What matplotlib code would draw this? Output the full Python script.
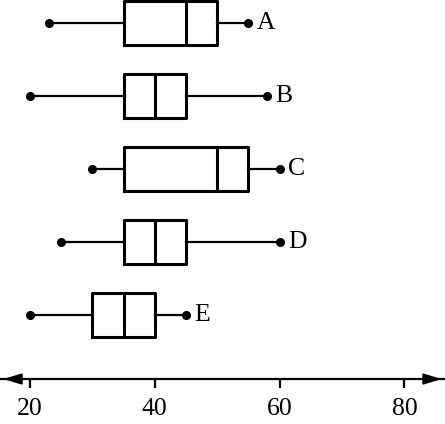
import matplotlib.pyplot as plt

# box plot summaries (top to bottom)
labels = ['A', 'B', 'C', 'D', 'E']
whislo = [23, 20, 30, 25, 20]
q1 = [35, 35, 35, 35, 30]
med = [45, 40, 50, 40, 35]
q3 = [50, 45, 55, 45, 40]
whishi = [55, 58, 60, 60, 45]
ticks = [20, 40, 60, 80]

plt.rcParams['font.family'] = ['Liberation Serif', 'DejaVu Serif']

fig = plt.figure(figsize=(4.45, 4.24), dpi=100)
ax = fig.add_axes([0, 0, 1, 1])

positions = list(range(len(labels), 0, -1))
stats = []
for i, lab in enumerate(labels):
    stats.append(dict(label=lab, whislo=whislo[i], q1=q1[i], med=med[i],
                      q3=q3[i], whishi=whishi[i], fliers=[]))

ax.bxp(stats, positions=positions, orientation='horizontal', widths=0.6,
       showcaps=False, showfliers=False, patch_artist=False,
       boxprops=dict(color='black', linewidth=2.2),
       medianprops=dict(color='black', linewidth=2.2),
       whiskerprops=dict(color='black', linewidth=1.6))

for i, lab in enumerate(labels):
    y = positions[i]
    ax.plot([whislo[i], whishi[i]], [y, y], 'o', color='black',
            markersize=5.5, zorder=3)
    ax.annotate(lab, xy=(whishi[i], y), xytext=(6, 0),
                textcoords='offset points', ha='left', va='center',
                fontsize=18.5)

axis_y = 0.123
ax.set_xlim(15.19, 86.5)
ax.set_ylim(-0.493, 5.315)

for s in ['top', 'right', 'left']:
    ax.spines[s].set_visible(False)
ax.spines['bottom'].set_position(('data', axis_y))
ax.spines['bottom'].set_linewidth(1.6)
ax.set_xticks(ticks)
ax.set_xticklabels([str(t) for t in ticks], fontsize=18.5)
ax.tick_params(axis='x', direction='out', length=6.5, width=1.6, pad=7)
ax.set_yticks([])

# arrow heads on both ends of the number line
head = dict(arrowstyle='-|>,head_length=0.65,head_width=0.2', color='black',
            lw=1.6, mutation_scale=16)
ax.annotate('', xy=(86.4, axis_y), xytext=(83.0, axis_y), arrowprops=head)
ax.annotate('', xy=(15.3, axis_y), xytext=(18.7, axis_y), arrowprops=head)

fig.savefig('out.png', dpi=100)
